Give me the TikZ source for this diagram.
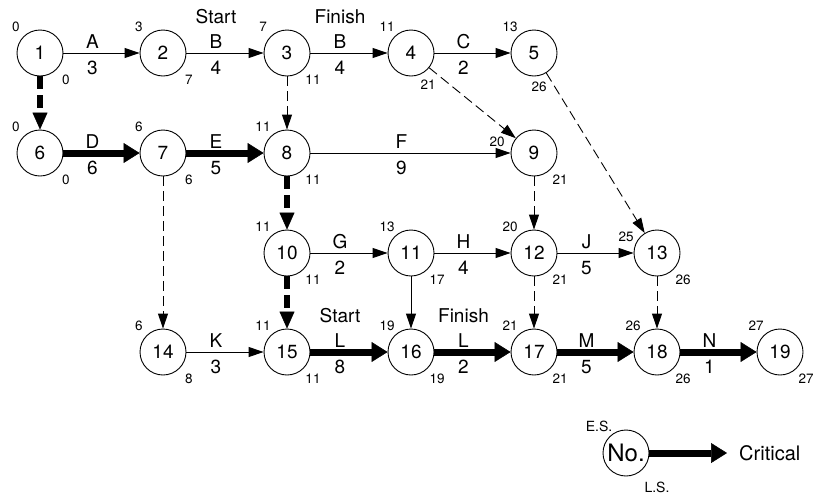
\documentclass[tikz,border=0pt]{standalone}
\usepackage{fontspec}
\setmainfont{TeX Gyre Heros}
\usetikzlibrary{arrows.meta,calc}
\tikzset{
 ev/.style={circle,draw,line width=0.9pt,minimum size=46pt,inner sep=0pt,font=\fontsize{19}{19}\selectfont},
 num/.style={inner sep=0pt,font=\fontsize{13.5}{13.5}\selectfont},
 elab/.style={inner sep=0pt,font=\fontsize{19}{19}\selectfont},
 act/.style={line width=0.9pt,-{Triangle[length=15pt,width=10pt]}},
 dum/.style={act,dash pattern=on 10pt off 5pt},
 crit/.style={line width=7pt,-{Triangle[length=16pt,width=20pt,line width=0.5pt]}},
 critdum/.style={line width=6pt,dash pattern=on 13pt off 6pt,-{Triangle[length=17pt,width=15pt,line width=0.5pt]}},
}
% name, position, number, ES, ES offset, LS, LS offset
\newcommand\evnode[7]{%
 \node[ev] (#1) at (#2) {#3};
 \node[num] (#1es) at ($(#1)+(#5)$) {#4};
 \node[num] (#1ls) at ($(#1)+(#7)$) {#6};
}
% from, to, name, upper label, lower label
\newcommand\elab[5]{%
 \node[elab] (#3u) at ($(#1)!0.5!(#2)+(-9,-11)$) {#4};
 \node[elab] (#3d) at ($(#1)!0.5!(#2)+(-9,15)$) {#5};
}
\begin{document}
\begin{tikzpicture}[x=1pt,y=-1pt]
\useasboundingbox (0,0) rectangle (813,496);
% events
\evnode{n1}{40,53}{1}{0}{-24,-26}{0}{26,27}
\evnode{n2}{163,53}{2}{3}{-24,-26}{7}{26,27}
\evnode{n3}{287,53}{3}{7}{-24,-26}{11}{26,27}
\evnode{n4}{411,53}{4}{11}{-24,-26}{21}{17,32}
\evnode{n5}{534,53}{5}{13}{-24,-26}{26}{5,34}
\evnode{n6}{40,153}{6}{0}{-24,-26}{0}{26,27}
\evnode{n7}{163,153}{7}{6}{-24,-26}{6}{26,27}
\evnode{n8}{287,153}{8}{11}{-24,-26}{11}{26,27}
\evnode{n9}{534,153}{9}{20}{-37,-11}{21}{26,27}
\evnode{n10}{287,253}{10}{11}{-24,-26}{11}{26,27}
\evnode{n11}{411,253}{11}{13}{-24,-26}{17}{26,27}
\evnode{n12}{534,253}{12}{20}{-24,-26}{21}{26,27}
\evnode{n13}{657,253}{13}{25}{-31,-16}{26}{26,27}
\evnode{n14}{163,352}{14}{6}{-24,-26}{8}{26,27}
\evnode{n15}{287,352}{15}{11}{-24,-26}{11}{26,27}
\evnode{n16}{411,352}{16}{19}{-24,-26}{19}{26,27}
\evnode{n17}{534,352}{17}{21}{-24,-26}{21}{26,27}
\evnode{n18}{657,352}{18}{26}{-24,-26}{26}{26,27}
\evnode{n19}{780,352}{19}{27}{-24,-26}{27}{26,27}
% activities
\draw[act] (n1) -- (n2); \elab{n1}{n2}{a}{A}{3}
\draw[act] (n2) -- (n3); \elab{n2}{n3}{b1}{B}{4}
\node[elab] (st1) at ($(b1u)+(0,-25)$) {Start};
\draw[act] (n3) -- (n4); \elab{n3}{n4}{b2}{B}{4}
\node[elab] (fi1) at ($(b2u)+(0,-25)$) {Finish};
\draw[act] (n4) -- (n5); \elab{n4}{n5}{c}{C}{2}
\draw[crit] (n6) -- (n7); \elab{n6}{n7}{d}{D}{6}
\draw[crit] (n7) -- (n8); \elab{n7}{n8}{e}{E}{5}
\draw[act] (n8) -- (n9); \elab{n8}{n9}{f}{F}{9}
\draw[act] (n10) -- (n11); \elab{n10}{n11}{g}{G}{2}
\draw[act] (n11) -- (n12); \elab{n11}{n12}{h}{H}{4}
\draw[act] (n12) -- (n13); \elab{n12}{n13}{j}{J}{5}
\draw[act] (n14) -- (n15); \elab{n14}{n15}{k}{K}{3}
\draw[crit] (n15) -- (n16); \elab{n15}{n16}{l1}{L}{8}
\node[elab] (st2) at ($(l1u)+(0,-25)$) {Start};
\draw[crit] (n16) -- (n17); \elab{n16}{n17}{l2}{L}{2}
\node[elab] (fi2) at ($(l2u)+(0,-25)$) {Finish};
\draw[crit] (n17) -- (n18); \elab{n17}{n18}{m}{M}{5}
\draw[crit] (n18) -- (n19); \elab{n18}{n19}{n}{N}{1}
\draw[act] (n11) -- (n16);
% dummies
\draw[critdum] (n1) -- (n6);
\draw[critdum] (n8) -- (n10);
\draw[critdum] (n10) -- (n15);
\draw[dum] (n3) -- (n8);
\draw[dum] (n4) -- (n9);
\draw[dum] (n5) -- (n13);
\draw[dum] (n7) -- (n14);
\draw[dum] (n9) -- (n12);
\draw[dum] (n12) -- (n17);
\draw[dum] (n13) -- (n18);
% legend
\node[ev,font=\fontsize{24}{24}\selectfont] (lg) at (626,453) {No.};
\node[num,font=\fontsize{14}{14}\selectfont] (lges) at ($(lg)+(-27,-27)$) {E.S.};
\node[num,font=\fontsize{14}{14}\selectfont] (lgls) at ($(lg)+(31,34)$) {L.S.};
\coordinate (lgend) at (727,453);
\draw[crit] (lg) -- (lgend);
\node[elab,font=\fontsize{20}{20}\selectfont,anchor=west] (crt) at (739,453) {Critical};
\end{tikzpicture}
\end{document}
